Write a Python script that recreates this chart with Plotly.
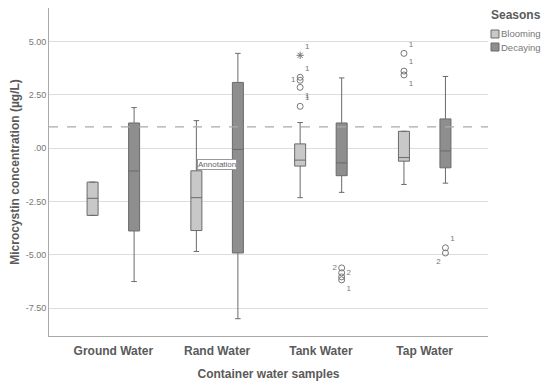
import plotly.graph_objects as go

categories = ["Ground Water", "Rand Water", "Tank Water", "Tap Water"]
seasons = ["Blooming", "Decaying"]
y_ticks = [5.0, 2.5, 0.0, -2.5, -5.0, -7.5]
y_tick_labels = ["5.00", "2.50", ".00", "-2.50", "-5.00", "-7.50"]
reference_level = 1.0

bloom_q1 = [-3.15, -3.86, -0.84, -0.61]
bloom_median = [-2.35, -2.32, -0.56, -0.44]
bloom_q3 = [-1.59, -1.06, 0.20, 0.79]
bloom_low = [-3.15, -4.84, -2.32, -1.70]
bloom_high = [-1.59, 1.29, 1.20, 0.79]

decay_q1 = [-3.88, -4.91, -1.29, -0.92]
decay_median = [-1.07, -0.06, -0.69, -0.13]
decay_q3 = [1.18, 3.08, 1.18, 1.37]
decay_low = [-6.25, -7.99, -2.07, -1.64]
decay_high = [1.90, 4.44, 3.29, 3.36]

# outliers: category index, season, value, case label
out_cat = [2, 2, 2, 2, 3, 3, 3, 2, 2, 2, 2, 3, 3]
out_season = ["B", "B", "B", "B", "B", "B", "B", "D", "D", "D", "D", "D", "D"]
out_value = [3.32, 3.18, 2.85, 1.96, 4.44, 3.61, 3.43, -5.61, -5.84, -6.03, -6.17, -4.67, -4.91]
out_label = ["1", "1", "1", "1", "1", "1", "1", "2", "2", "", "1", "1", "2"]
out_pos = ["top right", "middle left", "bottom right", "top right", "top right", "top right",
           "bottom right", "middle left", "middle right", "middle right", "bottom right",
           "top right", "bottom left"]
extreme_cat = [2]
extreme_value = [4.35]
extreme_label = ["1"]

# page body adds an 8px margin, so the figure is drawn 8px smaller and shifted
OFF = 8
W, H = 550 - OFF, 383 - OFF
L, R, T, B = 49 - OFF, 62, 0, 47
PW, PH = W - L - R, H - T - B


def px(x):
    return (x - OFF - L) / PW


def py(y):
    return (H - B - (y - OFF)) / PH


offset = 0.2
bw = 0.106
bloom_fill = "#c8c8c8"
decay_fill = "#8e8e8e"
edge = "#6a6a6a"
txt = "#5a5a5a"

fig = go.Figure()
fig.add_trace(go.Box(
    x=[i - offset for i in range(len(categories))],
    q1=bloom_q1, median=bloom_median, q3=bloom_q3,
    lowerfence=bloom_low, upperfence=bloom_high,
    width=bw, fillcolor=bloom_fill, line=dict(color=edge, width=1),
    whiskerwidth=0.5, boxpoints=False, showlegend=False, name=seasons[0]))
fig.add_trace(go.Box(
    x=[i + offset for i in range(len(categories))],
    q1=decay_q1, median=decay_median, q3=decay_q3,
    lowerfence=decay_low, upperfence=decay_high,
    width=bw, fillcolor=decay_fill, line=dict(color=edge, width=1),
    whiskerwidth=0.5, boxpoints=False, showlegend=False, name=seasons[1]))

ox = [c - offset if s == "B" else c + offset for c, s in zip(out_cat, out_season)]
fig.add_trace(go.Scatter(
    x=ox, y=out_value, mode="markers+text", text=out_label, textposition=out_pos,
    textfont=dict(size=8, color="#777"),
    marker=dict(symbol="circle-open", size=6, color="#777", line=dict(width=1)),
    showlegend=False, hoverinfo="skip", cliponaxis=False))
fig.add_trace(go.Scatter(
    x=[c - offset for c in extreme_cat], y=extreme_value, mode="markers+text",
    text=extreme_label, textposition="top right", textfont=dict(size=8, color="#777"),
    marker=dict(symbol="asterisk-open", size=6, color="#777", line=dict(width=1, color="#777")),
    showlegend=False, hoverinfo="skip"))

fig.add_shape(type="line", xref="paper", x0=0, x1=1, yref="y", y0=reference_level, y1=reference_level,
              line=dict(color="#aaaaaa", width=1.2, dash="dash"))

fig.add_annotation(x=1, y=-0.75, text="Annotation", showarrow=False,
                   font=dict(size=8, color="#666"), bgcolor="white",
                   bordercolor="#999", borderwidth=1, borderpad=0)

# manual legend
fig.add_annotation(xref="paper", yref="paper", x=px(489), y=py(15), xanchor="left", yanchor="middle",
                   text="<b>Seasons</b>", showarrow=False, font=dict(size=12, color=txt))
for i, (name, col) in enumerate(zip(seasons, [bloom_fill, decay_fill])):
    yc = 34 + 13 * i
    fig.add_shape(type="rect", xref="paper", yref="paper",
                  x0=px(491), x1=px(499), y0=py(yc - 4), y1=py(yc + 4),
                  fillcolor=col, line=dict(color=edge, width=1))
    fig.add_annotation(xref="paper", yref="paper", x=px(499), y=py(yc), xanchor="left",
                       yanchor="middle", text=name, showarrow=False,
                       font=dict(size=9.5, color="#777"))

fig.update_layout(
    width=W, height=H,
    margin=dict(l=L, r=R, t=T, b=B, autoexpand=False),
    paper_bgcolor="white", plot_bgcolor="white",
    font=dict(family="Liberation Sans, Arial, sans-serif", color=txt),
    boxmode="overlay", showlegend=False,
    xaxis=dict(range=[-0.62, 3.61], tickvals=list(range(len(categories))),
               ticktext=["<b>%s</b>" % c for c in categories],
               tickfont=dict(size=12, color=txt), showgrid=False, zeroline=False,
               showline=True, linecolor="#aaaaaa", linewidth=1, ticks="", automargin=False,
               ticklabelstandoff=4,
               title=dict(text="<b>Container water samples</b>", font=dict(size=12, color=txt),
                          standoff=12)),
    yaxis=dict(range=[-8.8, 6.8 - 5 / 21.4], tickvals=y_ticks, ticktext=y_tick_labels,
               tickfont=dict(size=9, color="#777"), showgrid=True, gridcolor="#dddddd",
               gridwidth=1, zeroline=False, showline=True, linecolor="#aaaaaa", linewidth=1,
               ticks="", automargin=False,
               title=dict(text="<b>Microcystin concentration (µg/L)</b>",
                          font=dict(size=12, color=txt), standoff=5)),
)

fig.write_html("out.html")
